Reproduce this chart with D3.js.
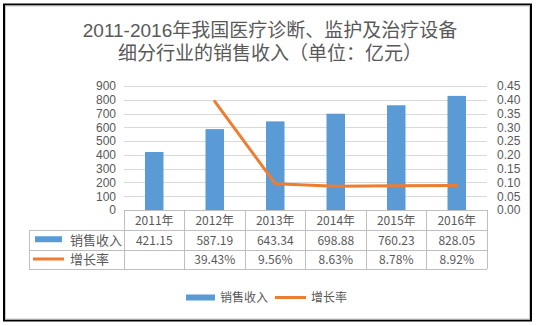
<!DOCTYPE html>
<html>
<head>
<meta charset="utf-8">
<script src="https://cdn.jsdelivr.net/npm/d3@7/dist/d3.min.js"></script>
<style>
  html, body { margin: 0; padding: 0; background: #fff; }
  svg { display: block; }
  text { font-family: "Noto Sans CJK SC", "Noto Sans", sans-serif; fill: #595959; }
  .num text, text.num, text.title { font-family: "Liberation Sans", "Noto Sans CJK SC", sans-serif; }
</style>
</head>
<body>
<svg id="chart" width="537" height="326"></svg>
<script>
// Sales revenue (100 million yuan) and year-on-year growth rate
const years = ["2011年", "2012年", "2013年", "2014年", "2015年", "2016年"];
const sales = [421.15, 587.19, 643.34, 698.88, 760.23, 828.05];
const growth = [null, 0.3943, 0.0956, 0.0863, 0.0878, 0.0892];
const leftTicks = [0, 100, 200, 300, 400, 500, 600, 700, 800, 900];
const rightTicks = [0, 0.05, 0.10, 0.15, 0.20, 0.25, 0.30, 0.35, 0.40, 0.45];
const titleLines = ["2011-2016年我国医疗诊断、监护及治疗设备", "细分行业的销售收入（单位：亿元）"];
const seriesNames = ["销售收入", "增长率"];

const BLUE = "#5B9BD5", ORANGE = "#ED7D31", GRID = "#D9D9D9", TABLE = "#BFBFBF";

const svg = d3.select("#chart");

// Frame
svg.append("rect").attr("x", 4).attr("y", 4.5).attr("width", 527).attr("height", 316)
  .attr("fill", "#fff").attr("stroke", "#000").attr("stroke-width", 2);
svg.append("rect").attr("x", 5.5).attr("y", 6).attr("width", 524).attr("height", 313)
  .attr("fill", "none").attr("stroke", "#C8C8C8").attr("stroke-width", 1);

// Title
svg.append("g").selectAll("text").data(titleLines).join("text")
  .attr("class", "title")
  .attr("x", 270).attr("y", (d, i) => 37 + i * 23)
  .attr("text-anchor", "middle").attr("font-size", 19)
  .text(d => d);

// Plot area
const plot = { left: 124, right: 487, top: 86, bottom: 210 };
const x = d3.scaleBand().domain(years).range([plot.left, plot.right]);
const yL = d3.scaleLinear().domain([0, 900]).range([plot.bottom, plot.top]);
const yR = d3.scaleLinear().domain([0, 0.45]).range([plot.bottom, plot.top]);

// Gridlines
svg.append("g").selectAll("line").data(leftTicks.filter(d => d > 0)).join("line")
  .attr("x1", plot.left).attr("x2", plot.right)
  .attr("y1", d => Math.round(yL(d)) + 0.5).attr("y2", d => Math.round(yL(d)) + 0.5)
  .attr("stroke", GRID).attr("stroke-width", 1);

// Left axis
const axL = svg.append("g").attr("class", "num").attr("transform", `translate(${plot.left - 8},0)`)
  .call(d3.axisLeft(yL).tickValues(leftTicks).tickSize(0).tickPadding(0).tickFormat(d3.format("d")));
axL.select(".domain").remove();
axL.selectAll("text").attr("font-size", 12).attr("fill", "#595959");

// Right axis
const axR = svg.append("g").attr("class", "num").attr("transform", `translate(${plot.right + 10},0)`)
  .call(d3.axisRight(yR).tickValues(rightTicks).tickSize(0).tickPadding(0).tickFormat(d3.format(".2f")));
axR.select(".domain").remove();
axR.selectAll("text").attr("font-size", 12).attr("fill", "#595959");

// Bars
const barW = 18.5;
svg.append("g").selectAll("rect").data(sales).join("rect")
  .attr("x", (d, i) => x(years[i]) + x.bandwidth() / 2 - barW / 2)
  .attr("width", barW)
  .attr("y", d => yL(d))
  .attr("height", d => yL(0) - yL(d))
  .attr("fill", BLUE);

// Growth line
const pts = growth.map((g, i) => ({ g, i })).filter(p => p.g !== null);
svg.append("path").datum(pts)
  .attr("d", d3.line().x(p => x(years[p.i]) + x.bandwidth() / 2).y(p => yR(p.g)))
  .attr("fill", "none").attr("stroke", ORANGE).attr("stroke-width", 3)
  .attr("stroke-linejoin", "round").attr("stroke-linecap", "round");

// Data table
const tbl = { left: 29, rows: [210, 230.5, 250, 269] };
const tg = svg.append("g").attr("stroke", TABLE).attr("stroke-width", 1).attr("shape-rendering", "crispEdges");
tg.append("line").attr("x1", plot.left).attr("x2", plot.right).attr("y1", tbl.rows[0]).attr("y2", tbl.rows[0]);
[1, 2, 3].forEach(r => tg.append("line").attr("x1", tbl.left).attr("x2", plot.right)
  .attr("y1", tbl.rows[r]).attr("y2", tbl.rows[r]));
tg.append("line").attr("x1", tbl.left).attr("x2", tbl.left).attr("y1", tbl.rows[1]).attr("y2", tbl.rows[3]);
const colEdges = years.map(y => x(y)).concat([plot.right]);
tg.selectAll("line.col").data(colEdges).join("line").attr("class", "col")
  .attr("x1", d => d).attr("x2", d => d).attr("y1", tbl.rows[0]).attr("y2", tbl.rows[3]);

const cx = (i) => x(years[i]) + x.bandwidth() / 2;
const rowMid = (r) => (tbl.rows[r] + tbl.rows[r + 1]) / 2 + 4.5;
svg.append("g").selectAll("text").data(years).join("text")
  .attr("x", (d, i) => cx(i)).attr("y", rowMid(0)).attr("text-anchor", "middle")
  .attr("font-size", 12).text(d => d);
svg.append("g").selectAll("text").data(sales).join("text")
  .attr("x", (d, i) => cx(i)).attr("y", rowMid(1)).attr("text-anchor", "middle")
  .attr("font-size", 12).text(d => d.toFixed(2));
svg.append("g").selectAll("text").data(growth).join("text")
  .attr("x", (d, i) => cx(i)).attr("y", rowMid(2)).attr("text-anchor", "middle")
  .attr("font-size", 12).text(d => d === null ? "" : (d * 100).toFixed(2) + "%");

// Row headers with series keys
svg.append("rect").attr("x", 35).attr("y", rowMid(1) - 8.5).attr("width", 27).attr("height", 6).attr("fill", BLUE);
svg.append("line").attr("x1", 33).attr("x2", 64).attr("y1", rowMid(2) - 5).attr("y2", rowMid(2) - 5)
  .attr("stroke", ORANGE).attr("stroke-width", 3);
svg.append("text").attr("x", 70).attr("y", rowMid(1)).attr("font-size", 13).text(seriesNames[0]);
svg.append("text").attr("x", 70).attr("y", rowMid(2)).attr("font-size", 13).text(seriesNames[1]);

// Legend
const lg = svg.append("g");
lg.append("rect").attr("x", 186).attr("y", 294.5).attr("width", 29).attr("height", 6).attr("fill", BLUE);
lg.append("text").attr("x", 220).attr("y", 302).attr("font-size", 12).text(seriesNames[0]);
lg.append("line").attr("x1", 275).attr("x2", 306).attr("y1", 297.5).attr("y2", 297.5)
  .attr("stroke", ORANGE).attr("stroke-width", 3);
lg.append("text").attr("x", 311).attr("y", 302).attr("font-size", 12).text(seriesNames[1]);
</script>
</body>
</html>
